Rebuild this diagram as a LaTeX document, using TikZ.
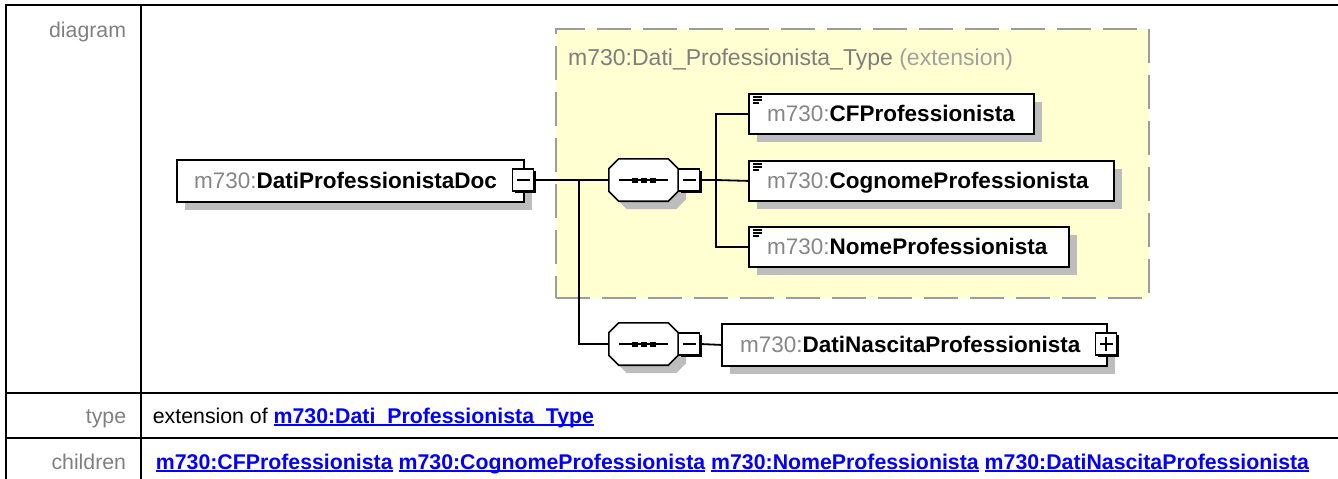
\documentclass[tikz,border=0pt]{standalone}
\usepackage{fontspec}
\setmainfont{Liberation Sans}
\usetikzlibrary{calc,shadows}
\pgfdeclarelayer{bgzero}
\pgfdeclarelayer{bgone}
\pgfsetlayers{bgzero,bgone,main}
\definecolor{pfx}{HTML}{868686}
\definecolor{ylw}{HTML}{FFFFD1}
\definecolor{dashc}{HTML}{9C9C9C}
\definecolor{shd}{HTML}{BDBDBD}
\definecolor{lbl}{HTML}{808080}
\definecolor{lnkc}{HTML}{0000FF}
\definecolor{ttl}{HTML}{7E7E7E}
\definecolor{ttlx}{HTML}{A0A0A0}
\newcommand\mylink[1]{\setbox0\hbox{\bfseries #1}\rlap{\rule[-3pt]{\wd0}{1.6pt}}\box0}
\newcommand\dfont{\fontsize{22.5}{26}\selectfont}
\newcommand\tfont{\fontsize{21.3}{25}\selectfont}
\newcommand\nm[1]{{\color{pfx}m730:}\textbf{#1}}
\begin{document}
\begin{tikzpicture}[x=1pt,y=-1pt,line width=1.8pt,
  tbl/.style={line width=2.2pt,draw=black},
  conn/.style={draw=black,solid,line width=1.8pt},
  elem/.style={draw=black,fill=white,line width=1.8pt,anchor=north west,inner sep=0pt,
     general shadow={shadow xshift=8pt,shadow yshift=-8pt,fill=shd}},
  tog/.style={draw=black,fill=white,line width=1.4pt,minimum width=21pt,minimum height=22pt,inner sep=0pt,
     general shadow={shadow xshift=2pt,shadow yshift=-2pt,fill=black}},
  minus/.style={tog,path picture={\draw[line width=1.5pt] ($(path picture bounding box.west)+(4,0)$) -- ($(path picture bounding box.east)+(-4,0)$);}},
  plus/.style={tog,path picture={\draw[line width=1.5pt] ($(path picture bounding box.west)+(4,0)$) -- ($(path picture bounding box.east)+(-4,0)$);
     \draw[line width=1.5pt] ($(path picture bounding box.north)+(0,4)$) -- ($(path picture bounding box.south)+(0,-4)$);}},
  seqbox/.style={draw=none,minimum width=69pt,minimum height=42pt,inner sep=0pt},
  octo/.style 2 args={insert path={($(#1.north west)+(10+#2,#2)$) -- ($(#1.north east)+(-10+#2,#2)$) -- ($(#1.north east)+(#2,10+#2)$) -- ($(#1.south east)+(#2,-10+#2)$) -- ($(#1.south east)+(-10+#2,#2)$) -- ($(#1.south west)+(10+#2,#2)$) -- ($(#1.south west)+(#2,-10+#2)$) -- ($(#1.north west)+(#2,10+#2)$) -- cycle}},
  dtext/.style={anchor=base west,inner sep=0pt,font=\dfont},
  lbltext/.style={anchor=base east,inner sep=0pt,font=\tfont,text=lbl},
  celltext/.style={anchor=base west,inner sep=0pt,font=\tfont}
]
\useasboundingbox (0,0) rectangle (1338,479);
% table
\draw[tbl] (5,5) -- (1338,5);
\draw[tbl] (6,5) -- (6,479);
\draw[tbl] (141,5) -- (141,479);
\draw[tbl] (5,393) -- (1338,393);
\draw[tbl] (5,438) -- (1338,438);
\node[lbltext] (lDiagram) at (127,37) {diagram};
\node[lbltext] (lType) at (127,423) {type};
\node[lbltext] (lChildren) at (127,469) {children};
\node[celltext] (cType) at (152,423) {extension of {\color{lnkc}\mylink{m730:Dati\_Professionista\_Type}}};
\node[celltext] (cChildren) at (155,469) {\color{lnkc}\mylink{m730:CFProfessionista}\hspace{6pt}\mylink{m730:CognomeProfessionista}\hspace{6pt}\mylink{m730:NomeProfessionista}\hspace{6pt}\mylink{m730:DatiNascitaProfessionista}};
% extension box
\begin{pgfonlayer}{bgzero}
\node[draw=dashc,fill=ylw,line width=2.4pt,dash pattern=on 34pt off 12pt,anchor=north west,minimum width=593pt,minimum height=269pt,inner sep=0pt] (ext) at (555,28) {};
\end{pgfonlayer}
\node[anchor=base west,inner sep=0pt,font=\fontsize{23}{27}\selectfont] (extT) at (568,65) {{\color{ttl}m730:Dati\_Professionista\_Type} {\color{ttlx}(extension)}};
% element nodes
\node[elem,minimum width=347pt,minimum height=42pt] (main) at (176,159) {};
\node[dtext] (mainT) at ($(main.west)+(18,8)$) {\nm{DatiProfessionistaDoc}};
\node[minus] (mainTog) at (523,180) {};
\node[elem,minimum width=285pt,minimum height=40pt] (cf) at (748,93) {};
\node[elem,minimum width=365pt,minimum height=40pt] (cog) at (748,160) {};
\node[elem,minimum width=320pt,minimum height=40pt] (nome) at (748,226) {};
\node[elem,minimum width=385pt,minimum height=42pt] (dn) at (721,323) {};
\node[plus] (dnTog) at (1106,344) {};
% sequences
\node[seqbox] (seq1) at (643.5,180) {};
\node[seqbox] (seq2) at (643.5,344) {};
\foreach \s in {seq1,seq2}{
  \fill[shd,octo={\s}{8}];
  \draw[fill=white,line width=1.6pt,octo={\s}{0}];
  \draw[line width=1.6pt] ($(\s.west)+(10,0)$) -- ($(\s.east)+(-10,0)$);
  \fill ($(\s.center)+(-12,-2.5)$) rectangle +(6,5);
  \fill ($(\s.center)+(-3,-2.5)$) rectangle +(6,5);
  \fill ($(\s.center)+(6,-2.5)$) rectangle +(6,5);
}
\node[minus] (seq1Tog) at (689,180) {};
\node[minus] (seq2Tog) at (689,344) {};
\coordinate (j1) at (579,180);
\coordinate (j2) at (716,180);
% connectors (behind the boxes)
\begin{pgfonlayer}{bgone}
\draw[conn] (mainTog.east) -- (seq1.west);
\draw[conn] (j1) |- (seq2.west);
\draw[conn] (seq1Tog.east) -- (j2);
\draw[conn] (j2) |- (cf.west);
\draw[conn] (j2) -- (cog.west);
\draw[conn] (j2) |- (nome.west);
\draw[conn] (seq2Tog.east) -- (dn.west);
\end{pgfonlayer}
% element texts and icons
\node[dtext] (cfT) at ($(cf.west)+(19,8)$) {\nm{CFProfessionista}};
\node[dtext] (cogT) at ($(cog.west)+(19,8)$) {\nm{CognomeProfessionista}};
\node[dtext] (nomeT) at ($(nome.west)+(19,8)$) {\nm{NomeProfessionista}};
\node[dtext] (dnT) at ($(dn.west)+(19,8)$) {\nm{DatiNascitaProfessionista}};
\foreach \b in {cf,cog,nome}{
  \draw[line width=1.2pt] ($(\b.north west)+(5,4)$) -- +(9,0);
  \draw[line width=1.2pt] ($(\b.north west)+(5,7)$) -- +(9,0);
  \draw[line width=1.2pt] ($(\b.north west)+(5,10)$) -- +(6,0);
}
\end{tikzpicture}
\end{document}
